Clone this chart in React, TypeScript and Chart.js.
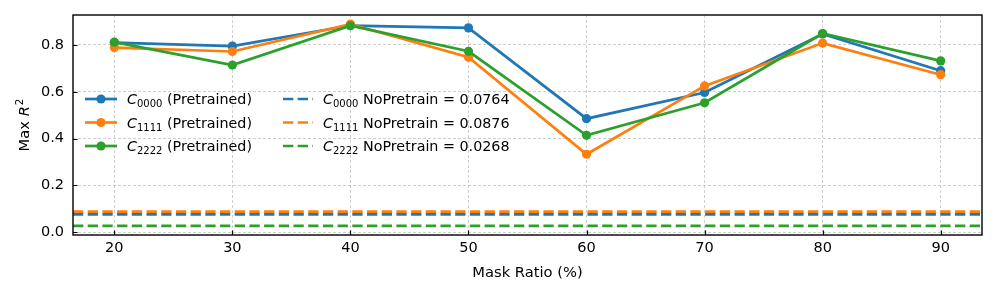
import React, { useEffect, useRef } from "react";
import { Chart, registerables } from "chart.js";

Chart.register(...registerables);

const maskRatios = [20, 30, 40, 50, 60, 70, 80, 90];
const c0000Pretrained = [0.81, 0.795, 0.883, 0.873, 0.485, 0.597, 0.847, 0.69];
const c1111Pretrained = [0.789, 0.772, 0.889, 0.748, 0.333, 0.625, 0.808, 0.673];
const c2222Pretrained = [0.812, 0.714, 0.882, 0.773, 0.414, 0.553, 0.849, 0.732];
const noPretrainValues = [0.0764, 0.0876, 0.0268];
const seriesSubscripts = ["0000", "1111", "2222"];
const seriesColors = ["#1f77b4", "#ff7f0e", "#2ca02c"];
const xTickValues = [20, 30, 40, 50, 60, 70, 80, 90];
const yTickValues = [0, 0.2, 0.4, 0.6, 0.8];
const xLimits = [16.5, 93.5];
const yLimits = [-0.012, 0.928];

const FONT = "'DejaVu Sans', sans-serif";

function drawMathLabel(ctx: CanvasRenderingContext2D, x: number, y: number, sub: string, rest: string, size: number) {
  ctx.textAlign = "left";
  ctx.textBaseline = "alphabetic";
  ctx.fillStyle = "#000";
  ctx.font = `italic ${size}px ${FONT}`;
  ctx.fillText("C", x, y);
  let cx = x + ctx.measureText("C").width;
  const subSize = size * 0.7;
  ctx.font = `${subSize}px ${FONT}`;
  ctx.fillText(sub, cx, y + size * 0.22);
  cx += ctx.measureText(sub).width;
  ctx.font = `${size}px ${FONT}`;
  ctx.fillText(rest, cx, y);
}

const overlayPlugin = {
  id: "overlay",
  afterDraw(chart: any) {
    const ctx: CanvasRenderingContext2D = chart.ctx;
    const { left, right, top, bottom } = chart.chartArea;
    const xs = chart.scales.x;
    const ys = chart.scales.y;
    ctx.save();
    // inward ticks
    ctx.strokeStyle = "#000";
    ctx.lineWidth = 1.2;
    ctx.beginPath();
    xTickValues.forEach((v) => {
      const px = Math.round(xs.getPixelForValue(v)) + 0.5;
      ctx.moveTo(px, bottom);
      ctx.lineTo(px, bottom - 4.5);
    });
    yTickValues.forEach((v) => {
      const py = Math.round(ys.getPixelForValue(v)) + 0.5;
      ctx.moveTo(left, py);
      ctx.lineTo(left + 4.5, py);
    });
    ctx.stroke();
    // frame
    ctx.lineWidth = 1.4;
    ctx.strokeRect(left, top, right - left, bottom - top);

    // legend
    const rowY = [99, 122.5, 146];
    const fs = 14.3;
    seriesSubscripts.forEach((sub, i) => {
      const yc = rowY[i];
      const col = seriesColors[i];
      ctx.strokeStyle = col;
      ctx.lineWidth = 2.7;
      ctx.setLineDash([]);
      ctx.beginPath();
      ctx.moveTo(85, yc);
      ctx.lineTo(117, yc);
      ctx.stroke();
      ctx.fillStyle = col;
      ctx.beginPath();
      ctx.arc(101, yc, 4.6, 0, Math.PI * 2);
      ctx.fill();
      drawMathLabel(ctx, 127, yc + 5, sub, " (Pretrained)", fs);
      ctx.strokeStyle = col;
      ctx.lineWidth = 2.7;
      ctx.setLineDash([10.3, 4.4]);
      ctx.beginPath();
      ctx.moveTo(283, yc);
      ctx.lineTo(313, yc);
      ctx.stroke();
      ctx.setLineDash([]);
      drawMathLabel(ctx, 323, yc + 5, sub, " NoPretrain = " + noPretrainValues[i].toFixed(4), fs);
    });

    // x title
    ctx.fillStyle = "#000";
    ctx.font = `14.7px ${FONT}`;
    ctx.textAlign = "center";
    ctx.textBaseline = "middle";
    ctx.fillText("Mask Ratio (%)", (left + right) / 2, 273);

    // y title: Max R^2
    ctx.translate(23.5, (top + bottom) / 2);
    ctx.rotate(-Math.PI / 2);
    const ts = 14.7;
    ctx.font = `${ts}px ${FONT}`;
    const w1 = ctx.measureText("Max ").width;
    ctx.font = `italic ${ts}px ${FONT}`;
    const w2 = ctx.measureText("R").width;
    ctx.font = `${ts * 0.7}px ${FONT}`;
    const w3 = ctx.measureText("2").width;
    const total = w1 + w2 + 1 + w3;
    let x0 = -total / 2;
    const base = ts * 0.36;
    ctx.textAlign = "left";
    ctx.textBaseline = "alphabetic";
    ctx.font = `${ts}px ${FONT}`;
    ctx.fillText("Max ", x0, base);
    x0 += w1;
    ctx.font = `italic ${ts}px ${FONT}`;
    ctx.fillText("R", x0, base);
    x0 += w2 + 1;
    ctx.font = `${ts * 0.7}px ${FONT}`;
    ctx.fillText("2", x0, base - ts * 0.42);
    ctx.restore();
  },
};

export default function App() {
  const ref = useRef<HTMLCanvasElement>(null);
  useEffect(() => {
    document.body.style.margin = "0";
    const pretrained = [c0000Pretrained, c1111Pretrained, c2222Pretrained];
    const datasets: any[] = [];
    pretrained.forEach((vals, i) => {
      datasets.push({
        label: `C${seriesSubscripts[i]} (Pretrained)`,
        data: maskRatios.map((x, j) => ({ x, y: vals[j] })),
        borderColor: seriesColors[i],
        backgroundColor: seriesColors[i],
        borderWidth: 2.7,
        pointRadius: 4.6,
        pointBorderWidth: 0,
        pointBackgroundColor: seriesColors[i],
        tension: 0,
      });
    });
    noPretrainValues.forEach((v, i) => {
      datasets.push({
        label: `C${seriesSubscripts[i]} NoPretrain = ${v}`,
        data: [
          { x: xLimits[0], y: v },
          { x: xLimits[1], y: v },
        ],
        borderColor: seriesColors[i],
        borderWidth: 2.7,
        borderDash: [10.3, 4.4],
        pointRadius: 0,
        tension: 0,
      });
    });
    const n = datasets.length;
    datasets.forEach((d, i) => (d.order = n - i));

    const gridColor = "rgba(180,180,180,0.8)";
    const chart = new Chart(ref.current!, {
      type: "line",
      data: { datasets },
      options: {
        animation: false,
        responsive: false,
        devicePixelRatio: 1,
        layout: { padding: { left: 0, right: 15, top: 15, bottom: 0 } },
        plugins: { legend: { display: false }, tooltip: { enabled: false } },
        scales: {
          x: {
            type: "linear",
            min: xLimits[0],
            max: xLimits[1],
            afterBuildTicks: (s: any) => {
              s.ticks = xTickValues.map((v) => ({ value: v }));
            },
            afterFit: (s: any) => {
              s.height = 62;
              s.paddingLeft = 0;
              s.paddingRight = 0;
              s.paddingTop = 0;
              s.paddingBottom = 0;
            },
            ticks: {
              color: "#000",
              font: { family: FONT, size: 14.5 },
              padding: 5,
              maxRotation: 0,
              callback: (v: any) => String(v),
            },
            grid: { color: gridColor, lineWidth: 0.8, drawTicks: false },
            border: { display: false, dash: [3, 2] },
          },
          y: {
            type: "linear",
            min: yLimits[0],
            max: yLimits[1],
            afterBuildTicks: (s: any) => {
              s.ticks = yTickValues.map((v) => ({ value: v }));
            },
            afterFit: (s: any) => {
              s.width = 73;
              s.paddingLeft = 0;
              s.paddingRight = 0;
              s.paddingTop = 0;
              s.paddingBottom = 0;
            },
            ticks: {
              color: "#000",
              font: { family: FONT, size: 14.5 },
              padding: 9,
              callback: (v: any) => Number(v).toFixed(1),
            },
            grid: { color: gridColor, lineWidth: 0.8, drawTicks: false },
            border: { display: false, dash: [3, 2] },
          },
        },
      },
      plugins: [overlayPlugin],
    });
    return () => chart.destroy();
  }, []);
  return (
    <div style={{ width: 997, height: 297, background: "#fff" }}>
      <canvas ref={ref} width={997} height={297} style={{ display: "block" }} />
    </div>
  );
}
